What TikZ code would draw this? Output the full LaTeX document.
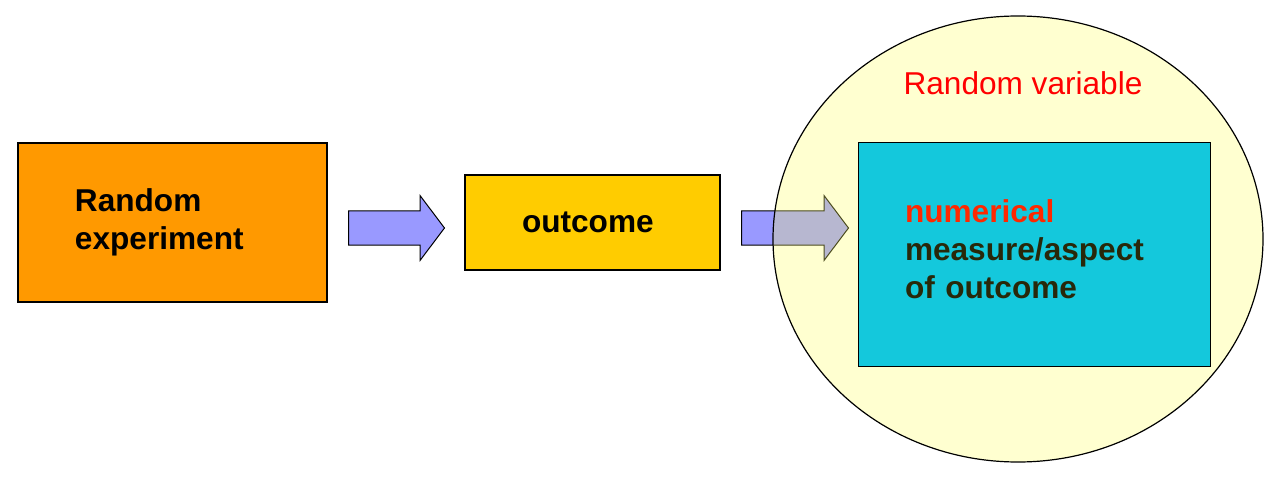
\documentclass[tikz,border=0pt]{standalone}
\usepackage{fontspec}
\setmainfont{Liberation Sans}
\usetikzlibrary{shapes.geometric,shapes.arrows,positioning}
\definecolor{expfill}{RGB}{255,153,0}
\definecolor{outfill}{RGB}{255,204,0}
\definecolor{arrowfill}{RGB}{153,153,255}
\definecolor{rvfill}{RGB}{255,255,100}
\definecolor{numfill}{RGB}{20,200,220}
\definecolor{numtext}{RGB}{255,40,0}
\definecolor{aspecttext}{RGB}{40,40,10}
\tikzset{
  box/.style={draw,line width=0.8pt,inner sep=0pt,font=\fontsize{15.8}{19}\selectfont\bfseries},
  blockarrow/.style={single arrow,draw,line width=0.5pt,fill=arrowfill,inner xsep=0pt,inner ysep=8.25pt,
    minimum width=32pt,single arrow head extend=7.75pt,single arrow tip angle=106,anchor=tail},
  rvlabel/.style={red,font=\fontsize{15.8}{19}\selectfont}
}
\begin{document}
\begin{tikzpicture}[x=0.5pt,y=-0.5pt]
  \useasboundingbox (0,0) rectangle (1286,481);

  % Boxes
  \node[box,fill=expfill,minimum width=154.5pt,minimum height=79.5pt,text width=97.5pt,align=left]
    (exp) at (172.5,222.5) {Random\\experiment};
  \node[box,fill=outfill,minimum width=127.5pt,minimum height=47.5pt,text width=70.5pt,align=left]
    (out) at (592.5,222.5) {outcome};

  % Arrows
  \node[blockarrow,minimum height=48pt] (arrA) at (348,228) {};
  \node[blockarrow,minimum height=53.5pt] (arrB) at (741,228) {};

  % Random variable
  \node[ellipse,draw,line width=0.6pt,fill=rvfill,fill opacity=0.3,inner sep=0pt,
    minimum width=245pt,minimum height=223pt] (rv) at (1018,239) {};
  \node[rvlabel,anchor=base] (rvname) at (1023,95) {Random variable};
  \node[box,fill=numfill,line width=0.5pt,minimum width=176pt,minimum height=111.5pt,
    text width=129pt,align=left,text=aspecttext] (num) at (1034,254.5)
    {\textcolor{numtext}{numerical}\\measure/aspect\\of outcome\rule[-5.8pt]{0pt}{5.8pt}};
\end{tikzpicture}
\end{document}
